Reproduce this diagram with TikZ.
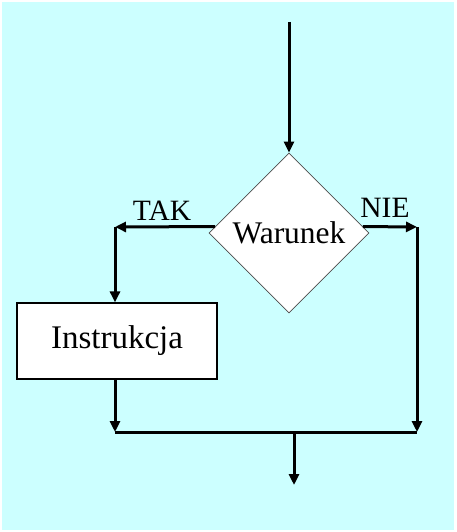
\documentclass[tikz,border=0pt]{standalone}
\usepackage{fontspec}
\setmainfont{Liberation Serif}
\usetikzlibrary{shapes.geometric,arrows.meta}
\definecolor{bgcyan}{HTML}{CCFFFF}
\begin{document}
\begin{tikzpicture}[x=1pt,y=-1pt,
  arr/.style={line width=3pt,-{Triangle[length=11pt,width=10pt]}},
  line/.style={line width=3pt},
  cond/.style={diamond,draw=black!70,line width=0.8pt,fill=white,aspect=1,
    minimum width=160pt,minimum height=160pt,inner sep=0pt,font=\fontsize{31.5}{33}\selectfont},
  stepbox/.style={rectangle,draw=black,line width=1.2pt,fill=white,
    minimum width=200pt,minimum height=76pt,inner sep=0pt,font=\fontsize{33}{35}\selectfont},
  lbl/.style={anchor=base,inner sep=0pt,font=\fontsize{29.5}{31}\selectfont}]
\useasboundingbox (0,0) rectangle (456,532);
\fill[white] (0,0) rectangle (456,532);
\fill[bgcyan] (2,2) rectangle (454,530);
\node[cond] (c) at (289,233) {Warunek};
\node[stepbox] (s) at (117,341) {Instrukcja};
\coordinate (start) at (289,22);
\coordinate (tl) at (115,227);
\coordinate (tr) at (417,227);
\coordinate (br) at (417,432);
\coordinate (bl) at (115,432);
\coordinate (jn) at (294,432);
\coordinate (end) at (294,485);
\draw[arr] (start) -- (c.north);
\draw[arr] (c.175) -- (tl);
\draw[arr] (c.5) -- (tr);
\draw[arr] (tl) -- (tl |- s.north);
\draw[arr] (tr) -- (br);
\draw[arr] (bl |- s.south) -- (bl);
\draw[line] (bl) -- (br);
\draw[arr] (jn) -- (end);
\node[lbl] (tak) at (162,220) {TAK};
\node[lbl] (nie) at (385,217) {NIE};
\end{tikzpicture}
\end{document}
